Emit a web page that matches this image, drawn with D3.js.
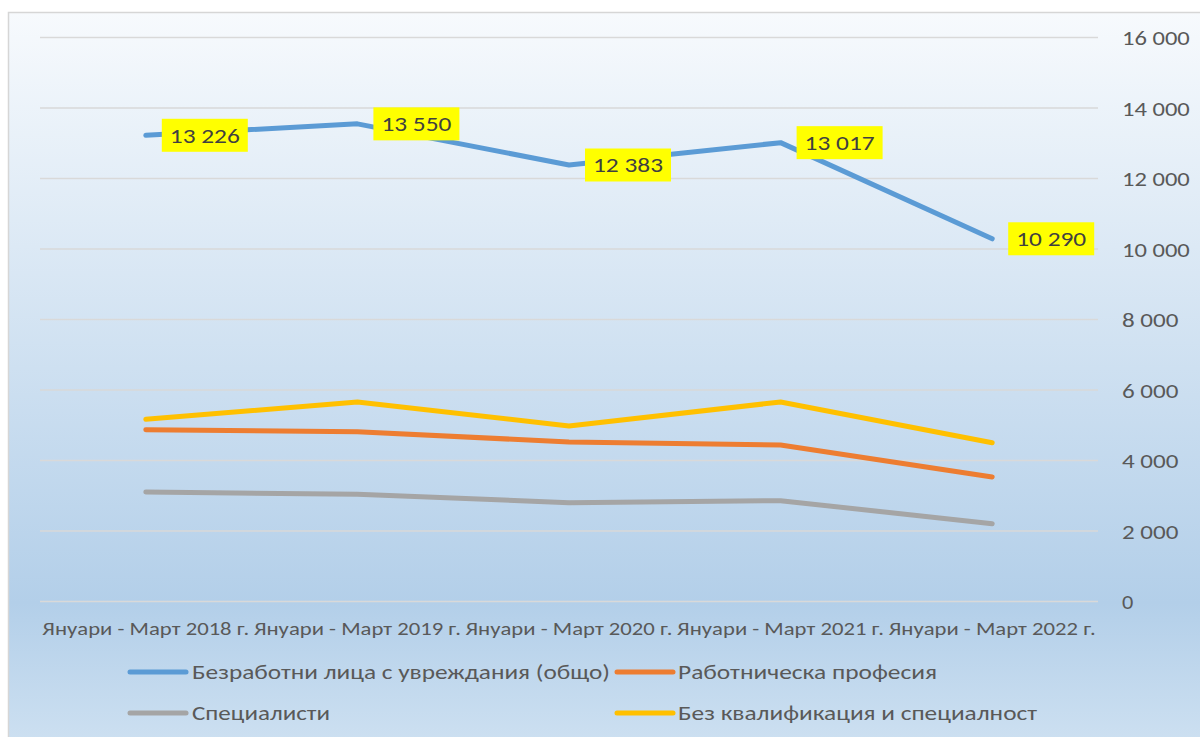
<!DOCTYPE html>
<html><head><meta charset="utf-8">
<script src="https://cdn.jsdelivr.net/npm/d3@7"></script>
<style>html,body{margin:0;padding:0;background:#fff;overflow:hidden}svg{display:block}text{font-family:Carlito,Lato,"Open Sans",sans-serif}</style>
</head><body><svg id="c" width="1200" height="737"></svg>
<script>
const categories = ["Януари - Март 2018 г.","Януари - Март 2019 г.","Януари - Март 2020 г.","Януари - Март 2021 г.","Януари - Март 2022 г."];
const seriesNames = ["Безработни лица с увреждания (общо)","Работническа професия","Специалисти","Без квалификация и специалност"];
const totalValues = [13226, 13550, 12383, 13017, 10290];
const workerValues = [4874, 4817, 4525, 4440, 3532];
const specialistValues = [3106, 3041, 2803, 2860, 2207];
const noQualValues = [5169, 5660, 4979, 5660, 4505];
const yTicks = [0, 2000, 4000, 6000, 8000, 10000, 12000, 14000, 16000];
const colors = ["#5b9bd5", "#ed7d31", "#a5a5a5", "#ffc000"];

const svg = d3.select("#c");
const defs = svg.append("defs");
const grad = defs.append("linearGradient").attr("id","bg").attr("gradientUnits","userSpaceOnUse")
  .attr("x1",0).attr("y1",12).attr("x2",0).attr("y2",760);
grad.append("stop").attr("offset","0").attr("stop-color","#f7fafd");
grad.append("stop").attr("offset","0.79").attr("stop-color","#b3cfe9");
grad.append("stop").attr("offset","1").attr("stop-color","#d0e2f2");
svg.append("rect").attr("x",8.5).attr("y",12.5).attr("width",1200).attr("height",760)
  .attr("fill","url(#bg)").attr("stroke","#d6d6d6").attr("stroke-width",1.5);

const x = d3.scaleBand().domain(categories).range([40, 1098]);
const y = d3.scaleLinear().domain([0, 16000]).range([601.5, 37.5]);
const fmt = v => d3.format(",")(v).replace(/,/g, " ");

// gridlines
svg.append("g").selectAll("line").data(yTicks).join("line")
  .attr("x1",40).attr("x2",1098).attr("y1",d=>y(d)).attr("y2",d=>y(d))
  .attr("stroke","#d9d9d9").attr("stroke-width",1.5);

// right axis labels
const yAxis = d3.axisRight(y).tickValues(yTicks).tickFormat(fmt).tickSize(0).tickPadding(0);
const ya = svg.append("g").attr("transform","translate(1122,0)").call(yAxis);
ya.select(".domain").remove();
ya.selectAll("text").attr("fill","#595959").attr("font-size",20).attr("dy","0.35em")
  .attr("textLength", d => fmt(d).length * 11.3).attr("lengthAdjust","spacingAndGlyphs")
  .style("font-family","Carlito,Lato,sans-serif");

// x labels
const xAxis = d3.axisBottom(x).tickSize(0).tickPadding(0);
const xa = svg.append("g").attr("transform","translate(0,623)").call(xAxis);
xa.select(".domain").remove();
xa.selectAll("text").attr("fill","#595959").attr("font-size",17.5).attr("dy","0.71em")
  .attr("textLength",207).attr("lengthAdjust","spacingAndGlyphs")
  .style("font-family","Carlito,Lato,sans-serif");

const cx = d => x(d) + x.bandwidth()/2;
const allSeries = [totalValues, workerValues, specialistValues, noQualValues];
const line = d3.line().x((d,i)=>cx(categories[i])).y(d=>y(d));
const drawOrder = [2,1,3,0];
drawOrder.forEach(k => {
  svg.append("path").datum(allSeries[k]).attr("d", line)
    .attr("fill","none").attr("stroke",colors[k]).attr("stroke-width",5)
    .attr("stroke-linecap","round").attr("stroke-linejoin","round");
});

// data labels for total
const lbl = svg.append("g").selectAll("g").data(totalValues).join("g")
  .attr("transform",(d,i)=>`translate(${cx(categories[i])+16},${y(d)})`);
lbl.append("rect").attr("x",0).attr("y",-16.5).attr("width",86).attr("height",33).attr("fill","#ffff00");
lbl.append("text").attr("x",43).attr("y",0).attr("dy","0.35em").attr("text-anchor","middle")
  .attr("font-size",21).attr("fill","#404040")
  .attr("textLength",70).attr("lengthAdjust","spacingAndGlyphs").text(d=>fmt(d));

// legend
const legendPos = [[128,672,192,418],[615,672,678,259],[128,713,192,138],[615,713,678,359]];
seriesNames.forEach((name,k) => {
  const [lx,ly,tx,tw] = legendPos[k];
  svg.append("line").attr("x1",lx+2).attr("x2",lx+58).attr("y1",ly).attr("y2",ly)
    .attr("stroke",colors[k]).attr("stroke-width",5).attr("stroke-linecap","round");
  svg.append("text").attr("x",tx).attr("y",ly).attr("dy","0.35em").attr("font-size",20)
    .attr("fill","#595959").attr("textLength",tw).attr("lengthAdjust","spacingAndGlyphs").text(name);
});
</script></body></html>
